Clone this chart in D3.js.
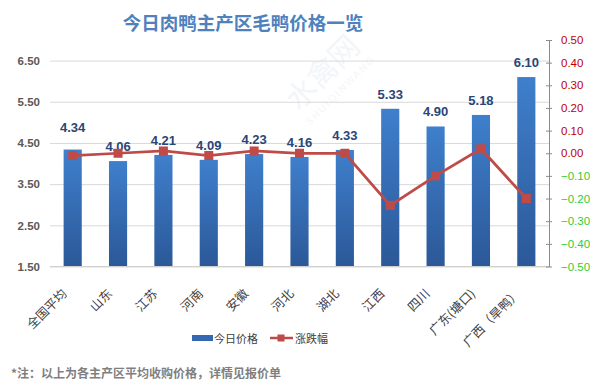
<!DOCTYPE html>
<html>
<head>
<meta charset="utf-8">
<script src="https://cdn.jsdelivr.net/npm/d3@7"></script>
<style>
  html, body { margin: 0; padding: 0; background: #fff; }
  svg { display: block; font-family: "Liberation Sans", "Noto Sans CJK SC", sans-serif; }
</style>
</head>
<body>
<div id="chart"></div>
<script>
// 今日肉鸭主产区毛鸭价格一览 - 柱状 + 折线双轴
const categories = ['全国平均', '山东', '江苏', '河南', '安徽', '河北', '湖北', '江西', '四川', '广东(塘口)', '广西（旱鸭）'];
const prices = [4.34, 4.06, 4.21, 4.09, 4.23, 4.16, 4.33, 5.33, 4.90, 5.18, 6.10];
const changes = [-0.01, 0.00, 0.01, -0.01, 0.01, 0.00, 0.00, -0.23, -0.10, 0.02, -0.20];
const leftTicks = [1.5, 2.5, 3.5, 4.5, 5.5, 6.5];
const rightTicks = [-0.5, -0.4, -0.3, -0.2, -0.1, 0, 0.1, 0.2, 0.3, 0.4, 0.5];

const width = 590, height = 391;
const cjk = '"Noto Sans CJK SC", sans-serif';

const svg = d3.select('#chart').append('svg')
  .attr('width', width).attr('height', height);

const defs = svg.append('defs');
const grad = defs.append('linearGradient').attr('id', 'barGrad')
  .attr('x1', 0).attr('y1', 0).attr('x2', 0).attr('y2', 1);
grad.append('stop').attr('offset', '0%').attr('stop-color', '#3f7fcc');
grad.append('stop').attr('offset', '100%').attr('stop-color', '#2b5898');

const x = d3.scaleBand().domain(categories).range([50, 549]).paddingInner(0.6).paddingOuter(0.3);
const yL = d3.scaleLinear().domain([1.5, 7]).range([266.5, 40]);
const yR = d3.scaleLinear().domain([-0.5, 0.5]).range([266.5, 40]);

// watermark
const wm = svg.append('g').attr('transform', 'translate(330,80) rotate(-45)').attr('opacity', 0.08);
wm.append('text').attr('text-anchor', 'middle').attr('font-family', cjk).attr('font-size', 30)
  .attr('fill', '#6a8fb8').text('水禽网');
wm.append('text').attr('y', 18).attr('text-anchor', 'middle').attr('font-size', 10)
  .attr('letter-spacing', 2).attr('fill', '#6a8fb8').text('SHUIQINWANG');

// title
svg.append('text').attr('x', 243).attr('y', 30).attr('text-anchor', 'middle')
  .attr('font-family', cjk).attr('font-weight', 'bold').attr('font-size', 18.5)
  .attr('fill', '#4f81bd').text('今日肉鸭主产区毛鸭价格一览');

// gridlines + left axis
const yAxisL = d3.axisLeft(yL).tickValues(leftTicks).tickFormat(d3.format('.2f'))
  .tickSize(-(549 - 50)).tickPadding(10);
const gL = svg.append('g').attr('transform', 'translate(50,0)').call(yAxisL);
gL.select('.domain').remove();
gL.selectAll('.tick line').attr('stroke', '#d9d9d9');
gL.selectAll('.tick text').attr('fill', '#595959').attr('font-size', 11.5).attr('font-weight', 'bold');

// bars
svg.append('g').selectAll('rect').data(prices).join('rect')
  .attr('x', (d, i) => x(categories[i]))
  .attr('width', x.bandwidth())
  .attr('y', d => yL(d))
  .attr('height', d => yL(1.5) - yL(d))
  .attr('fill', 'url(#barGrad)');

// bar labels
svg.append('g').selectAll('text').data(prices).join('text')
  .attr('x', (d, i) => x(categories[i]) + x.bandwidth() / 2)
  .attr('y', (d, i) => yL(d) - (i === 0 ? 18 : 10))
  .attr('text-anchor', 'middle')
  .attr('font-size', 13).attr('font-weight', 'bold').attr('fill', '#2a4677')
  .text(d => d3.format('.2f')(d));

// x axis baseline
svg.append('line').attr('x1', 50).attr('x2', 549).attr('y1', yL(1.5)).attr('y2', yL(1.5))
  .attr('stroke', '#d0d0d0');

// x labels rotated
svg.append('g').selectAll('text').data(categories).join('text')
  .attr('transform', d => `translate(${x(d) + x.bandwidth() / 2 - 5},${yL(1.5) + 28}) rotate(-45)`)
  .attr('text-anchor', 'end')
  .attr('font-family', cjk).attr('font-size', 12.5).attr('fill', '#404040')
  .text(d => d);

// right axis
const yAxisR = d3.axisRight(yR).tickValues(rightTicks).tickFormat(d3.format('.2f'))
  .tickSizeInner(3).tickSizeOuter(0).tickPadding(9);
const gR = svg.append('g').attr('transform', 'translate(549,0)').call(yAxisR);
gR.select('.domain').attr('stroke', '#8c8c8c');
gR.selectAll('.tick line').attr('stroke', '#8c8c8c').attr('x1', -3).attr('x2', 3);
gR.selectAll('.tick text').attr('font-size', 11.5)
  .attr('fill', d => d < 0 ? '#33cc33' : '#c00000');

// change line
const line = d3.line()
  .x((d, i) => x(categories[i]) + x.bandwidth() / 2)
  .y(d => yR(d));
svg.append('path').datum(changes).attr('d', line)
  .attr('fill', 'none').attr('stroke', '#be4b48').attr('stroke-width', 2.75);
svg.append('g').selectAll('rect').data(changes).join('rect')
  .attr('x', (d, i) => x(categories[i]) + x.bandwidth() / 2 - 4.5)
  .attr('y', d => yR(d) - 4.5)
  .attr('width', 9).attr('height', 9)
  .attr('fill', '#be4b48');

// legend
const lg = svg.append('g').attr('transform', 'translate(192,338)');
lg.append('rect').attr('x', 0).attr('y', -3).attr('width', 21).attr('height', 6).attr('fill', '#3468b0');
lg.append('text').attr('x', 22).attr('y', 4.5).attr('font-family', cjk).attr('font-size', 11)
  .attr('fill', '#404040').text('今日价格');
lg.append('line').attr('x1', 78).attr('x2', 101).attr('y1', 0).attr('y2', 0)
  .attr('stroke', '#be4b48').attr('stroke-width', 2.5);
lg.append('rect').attr('x', 85.5).attr('y', -3.5).attr('width', 7).attr('height', 7).attr('fill', '#be4b48');
lg.append('text').attr('x', 103).attr('y', 4.5).attr('font-family', cjk).attr('font-size', 11)
  .attr('fill', '#404040').text('涨跌幅');

// footnote
svg.append('text').attr('x', 11).attr('y', 378)
  .attr('font-family', cjk).attr('font-size', 12).attr('font-weight', 'bold')
  .attr('fill', '#7f7f7f').text('*注：以上为各主产区平均收购价格，详情见报价单');
</script>
</body>
</html>
